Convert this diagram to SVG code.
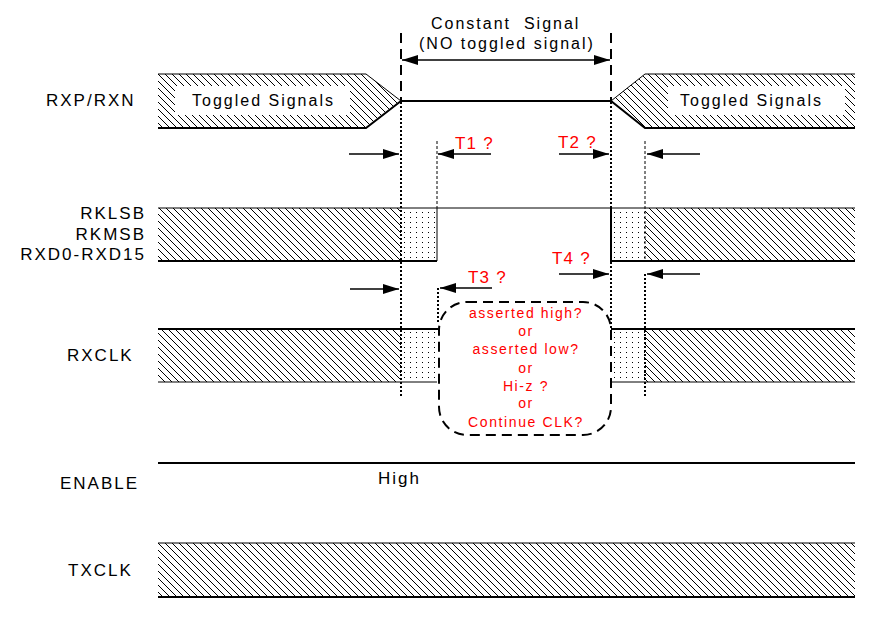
<svg xmlns="http://www.w3.org/2000/svg" width="890" height="618" viewBox="0 0 890 618">
<defs>
<pattern id="hatch" patternUnits="userSpaceOnUse" width="7" height="7">
<path d="M0,0 L7,7 M-1,6 L1,8 M6,-1 L8,1" stroke="#000" stroke-width="1"/>
</pattern>
<pattern id="dots" patternUnits="userSpaceOnUse" width="6" height="5">
<rect x="2" y="2" width="1" height="1" fill="#000"/>
</pattern>
<marker id="ah" markerWidth="16" markerHeight="10" refX="16" refY="5" orient="auto" markerUnits="userSpaceOnUse">
<path d="M0,0 L16,5 L0,10 Z" fill="#000"/>
</marker>
<marker id="ahs" markerWidth="16" markerHeight="10" refX="0" refY="5" orient="auto" markerUnits="userSpaceOnUse">
<path d="M16,0 L0,5 L16,10 Z" fill="#000"/>
</marker>
</defs>
<style>
.lbl{font-family:"Liberation Sans",Arial,sans-serif;font-size:17px;letter-spacing:2px;fill:#000}
.hd{font-family:"Liberation Sans",Arial,sans-serif;font-size:16px;letter-spacing:2px;fill:#000;white-space:pre}
.ts{font-family:"Liberation Sans",Arial,sans-serif;font-size:16px;letter-spacing:2px;fill:#000}
.red{font-family:"Liberation Sans",Arial,sans-serif;font-size:17px;letter-spacing:1.2px;fill:#f00}
.rs{font-family:"Liberation Sans",Arial,sans-serif;font-size:14px;letter-spacing:1.6px;fill:#f00;text-anchor:middle}
.thin{stroke:#000;stroke-width:1;fill:none}
.thick{stroke:#000;stroke-width:2;fill:none}
.dot{stroke:#000;stroke-width:2;stroke-dasharray:2,2;fill:none}
.dot1{stroke:#000;stroke-width:1;stroke-dasharray:3,2;fill:none}
.dash{stroke:#000;stroke-width:2;stroke-dasharray:10,6;fill:none}
.arr{stroke:#000;stroke-width:1.5;fill:none}
</style>

<g id="labels">
<text class="lbl" x="46" y="106">RXP/RXN</text>
<text class="lbl" x="146" y="219" text-anchor="end">RKLSB</text>
<text class="lbl" x="146" y="240" text-anchor="end">RKMSB</text>
<text class="lbl" x="146" y="260" text-anchor="end">RXD0-RXD15</text>
<text class="lbl" x="67" y="361">RXCLK</text>
<text class="lbl" x="60" y="489">ENABLE</text>
<text class="lbl" x="68" y="576">TXCLK</text>
</g>

<g id="rxp">
<path d="M158,74 L366,74 L401,101 L366,128 L158,128 Z" fill="url(#hatch)"/>
<path d="M855,74 L645,74 L611,101 L645,128 L855,128 Z" fill="url(#hatch)"/>
<rect x="175" y="86" width="175" height="29" fill="#fff"/>
<rect x="668" y="86" width="177" height="29" fill="#fff"/>
<path class="thin" d="M158,74 L366,74 L401,101"/>
<path class="thick" d="M158,128 L366,128 L401,101 L611,101 L645,128 L855,128"/>
<path class="thin" d="M611,101 L645,74 L855,74"/>
<text class="ts" x="192" y="106">Toggled Signals</text>
<text class="ts" x="680" y="106">Toggled Signals</text>
</g>

<g id="constant">
<text class="hd" x="431" y="29">Constant  Signal</text>
<text class="hd" x="419" y="49">(NO toggled signal)</text>
</g>

<g id="rk">
<rect x="158" y="208" width="243" height="53" fill="url(#hatch)"/>
<rect x="401" y="208" width="36" height="53" fill="url(#dots)"/>
<rect x="611" y="208" width="34" height="53" fill="url(#dots)"/>
<rect x="645" y="208" width="210" height="53" fill="url(#hatch)"/>
<line class="thin" x1="158" y1="208" x2="855" y2="208"/>
<path class="thick" d="M158,261 L437,261"/>
<path class="thin" d="M437,208 L437,261"/>
<path class="thick" d="M611,208 L611,261 L855,261"/>
</g>

<g id="rxclk">
<rect x="158" y="329" width="243" height="53" fill="url(#hatch)"/>
<rect x="401" y="329" width="36" height="53" fill="url(#dots)"/>
<rect x="611" y="329" width="34" height="53" fill="url(#dots)"/>
<rect x="645" y="329" width="210" height="53" fill="url(#hatch)"/>
<path class="thick" d="M158,329 L438,329"/>
<path class="thin" d="M158,382 L437,382"/>
<path class="thick" d="M611,329 L855,329"/>
<path class="thin" d="M611,382 L855,382"/>
</g>

<g id="enable">
<line class="thick" x1="158" y1="463" x2="855" y2="463"/>
<text class="lbl" x="378" y="484" font-size="16" letter-spacing="1.5">High</text>
</g>

<g id="txclk">
<rect x="158" y="543" width="697" height="54" fill="url(#hatch)"/>
<line class="thin" x1="158" y1="543" x2="855" y2="543"/>
<line class="thick" x1="158" y1="597" x2="855" y2="597"/>
</g>

<g id="question-box">
<rect class="dash" x="439" y="302" width="172" height="133" rx="28"/>
<text class="rs" x="526" y="318">asserted high?</text>
<text class="rs" x="526" y="336">or</text>
<text class="rs" x="526" y="354">asserted low?</text>
<text class="rs" x="526" y="373">or</text>
<text class="rs" x="526" y="391">Hi-z ?</text>
<text class="rs" x="526" y="408">or</text>
<text class="rs" x="526" y="427">Continue CLK?</text>
</g>

<g id="connectors">
<line class="dash" x1="401" y1="33" x2="401" y2="100"/>
<line class="dash" x1="611" y1="33" x2="611" y2="100"/>
<line class="arr" x1="402" y1="60" x2="610" y2="60" marker-start="url(#ahs)" marker-end="url(#ah)"/>
<line class="dot" x1="401" y1="102" x2="401" y2="396"/>
<line class="dot" x1="611" y1="102" x2="611" y2="208"/>
<line class="dot" x1="611" y1="262" x2="611" y2="329"/>
<line class="dot1" x1="437" y1="141" x2="437" y2="208"/>
<line class="dot1" x1="645" y1="141" x2="645" y2="262"/>
<line class="dot" x1="438" y1="288" x2="438" y2="322"/>
<line class="dot" x1="645" y1="274" x2="645" y2="396"/>
<line class="arr" x1="349" y1="154" x2="399" y2="154" marker-end="url(#ah)"/>
<line class="arr" x1="491" y1="154" x2="438" y2="154" marker-end="url(#ah)"/>
<line class="arr" x1="559" y1="154" x2="609" y2="154" marker-end="url(#ah)"/>
<line class="arr" x1="700" y1="154" x2="647" y2="154" marker-end="url(#ah)"/>
<line class="arr" x1="350" y1="289" x2="399" y2="289" marker-end="url(#ah)"/>
<line class="arr" x1="492" y1="288" x2="440" y2="288" marker-end="url(#ah)"/>
<line class="arr" x1="559" y1="274" x2="609" y2="274" marker-end="url(#ah)"/>
<line class="arr" x1="700" y1="274" x2="647" y2="274" marker-end="url(#ah)"/>
<text class="red" x="455" y="149">T1 ?</text>
<text class="red" x="558" y="148">T2 ?</text>
<text class="red" x="468" y="283">T3 ?</text>
<text class="red" x="552" y="264">T4 ?</text>
</g>
</svg>
